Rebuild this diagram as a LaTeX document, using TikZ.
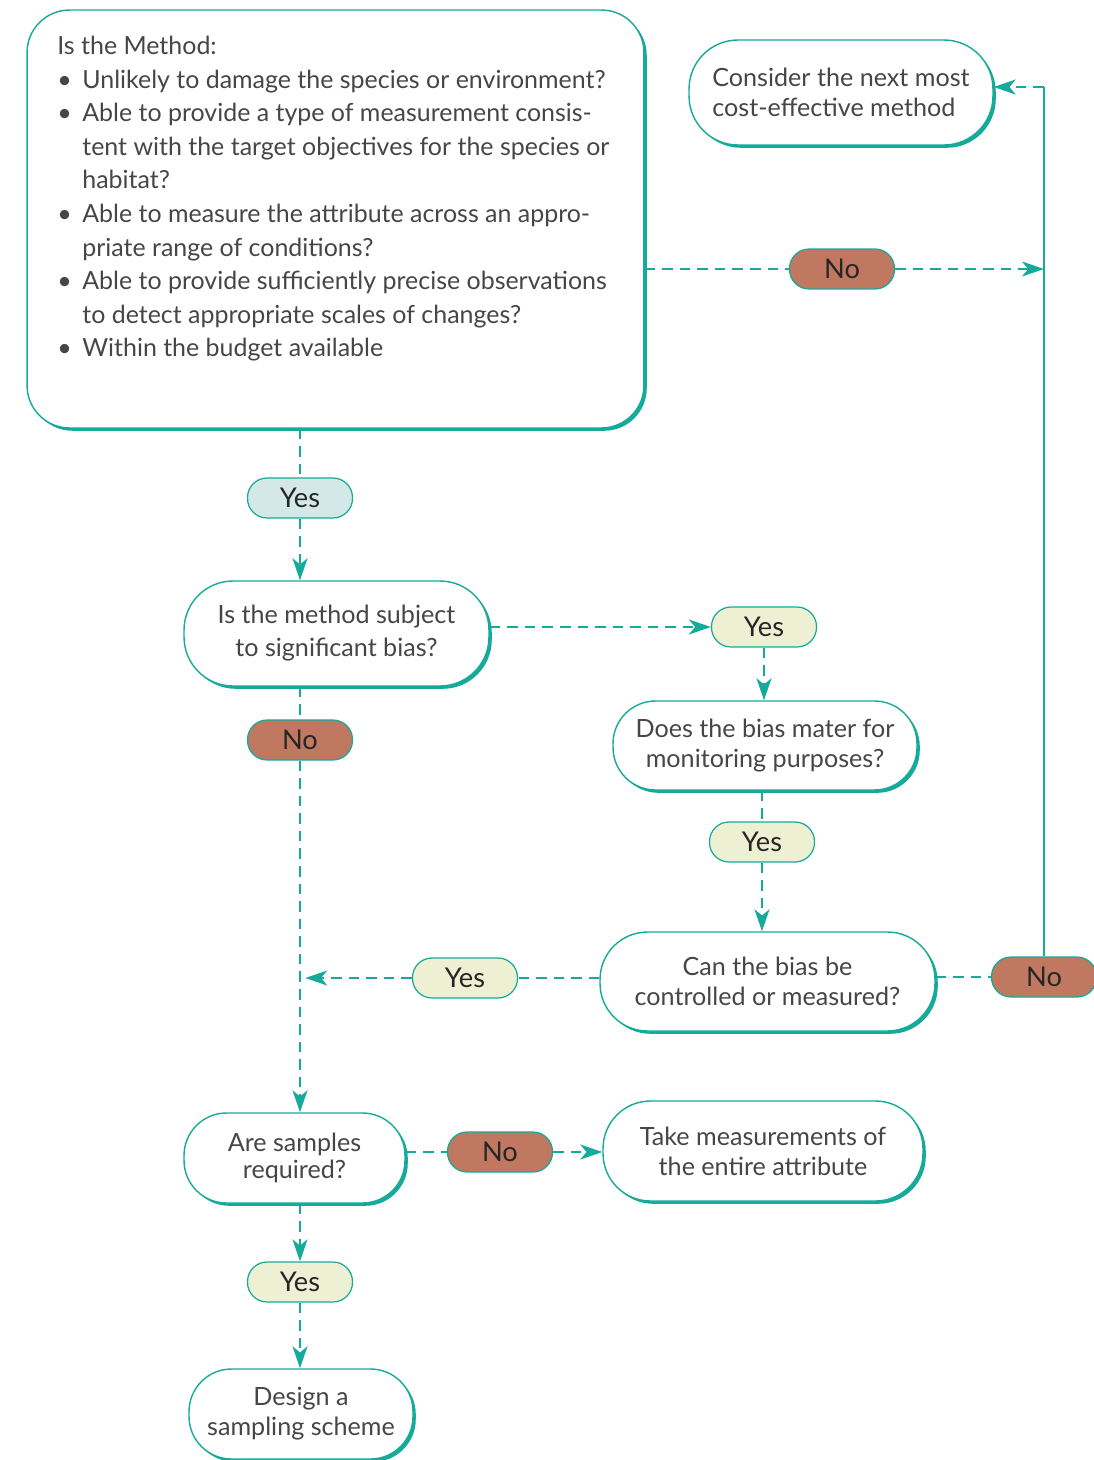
\documentclass[tikz,border=0pt]{standalone}
\usepackage{fontspec}
\setmainfont{Lato}
\usepackage{tikz}
\usetikzlibrary{arrows.meta, positioning, shadows, calc}
\definecolor{flowteal}{RGB}{22,170,155}
\definecolor{notext}{RGB}{192,120,96}
\definecolor{yesblue}{RGB}{212,232,231}
\definecolor{yescream}{RGB}{238,240,212}
\definecolor{boxtext}{RGB}{70,70,70}
\tikzset{
  flowbox/.style={rectangle, rounded corners=0.85cm, draw=flowteal, line width=0.8pt,
                  fill=white, align=center, text=boxtext,
                  font=\fontsize{14.3}{17}\selectfont,
                  drop shadow={shadow xshift=1.6pt, shadow yshift=-1.6pt,
                               opacity=1, fill=flowteal}},
  answer/.style={rectangle, rounded corners=0.39cm, draw=flowteal, line width=0.7pt,
                 minimum width=2.1cm, minimum height=0.8cm, inner sep=0pt,
                 text=black!85, font=\fontsize{15.5}{18}\selectfont},
  yesA/.style={answer, fill=yesblue},
  yesB/.style={answer, fill=yescream},
  noans/.style={answer, fill=notext},
  link/.style={flowteal, line width=1.4pt, dash pattern=on 6pt off 4pt},
  linkarrow/.style={link, -{Stealth[length=12.5pt, width=8.5pt, inset=3.5pt]}},
}
\newcommand{\bul}{\textbullet\hspace{6pt}}

\begin{document}
\begin{tikzpicture}[x=0.02cm, y=-0.02cm]
  \useasboundingbox (0,0) rectangle (1094,1460);

  % boxes
  \node[flowbox, rounded corners=0.85cm, minimum width=12.34cm, minimum height=8.36cm]
    (method) at (335.5,219) {};
  \node[anchor=north west, align=left, text=boxtext, inner sep=0pt,
        font=\fontsize{14.2}{19.1}\selectfont] (methodtext) at (57,36)
    {Is the Method:\\
     \bul Unlikely to damage the species or environment?\\
     \bul Able to provide a type of measurement consis-\\
     \phantom{\bul}tent with the target objectives for the species or\\
     \phantom{\bul}habitat?\\
     \bul Able to measure the attribute across an appro-\\
     \phantom{\bul}priate range of conditions?\\
     \bul Able to provide sufficiently precise observations\\
     \phantom{\bul}to detect appropriate scales of changes?\\
     \bul Within the budget available};
  \node[flowbox, align=left, rounded corners=0.98cm, minimum width=6.08cm, minimum height=2.1cm]
    (consider) at (841,92.5) {Consider the next most\\cost-effective method};
  \node[flowbox, rounded corners=0.98cm, minimum width=6.1cm, minimum height=2.1cm,
        font=\fontsize{14.3}{18.8}\selectfont]
    (bias) at (336.5,633.5) {Is the method subject\\to significant bias?};
  \node[flowbox, minimum width=6.08cm, minimum height=1.78cm]
    (matter) at (765,745.5) {Does the bias mater for\\monitoring purposes?};
  \node[flowbox, rounded corners=0.95cm, minimum width=6.7cm, minimum height=1.98cm]
    (control) at (767.5,981.5) {Can the bias be\\controlled or measured?};
  \node[flowbox, minimum width=4.42cm, minimum height=1.8cm,
        font=\fontsize{14.3}{15}\selectfont]
    (samples) at (294.5,1158) {Are samples\\required?};
  \node[flowbox, rounded corners=0.95cm, minimum width=6.4cm, minimum height=2.0cm]
    (entire) at (763,1151) {Take measurements of\\the entire attribute};
  \node[flowbox, minimum width=4.48cm, minimum height=1.8cm]
    (design) at (301,1414) {Design a\\sampling scheme};

  % answers
  \node[yesA] (yes1) at (300,498) {Yes};
  \node[noans] (no1) at (842,269) {No};
  \node[yesB] (yes2) at (764,627) {Yes};
  \node[noans] (no2) at (300,740) {No};
  \node[yesB] (yes3) at (762,842) {Yes};
  \node[yesB] (yes4) at (465,978) {Yes};
  \node[noans] (no3) at (1044,977) {No};
  \node[noans] (no4) at (500,1152) {No};
  \node[yesB] (yes5) at (300,1282) {Yes};

  \coordinate (join) at (300,978);
  \coordinate (corner) at (1044,87);

  % connectors
  \draw[link] (method.south -| yes1) -- (yes1);
  \draw[linkarrow] (yes1) -- (yes1 |- bias.north);
  \draw[linkarrow] (bias.east |- yes2) -- (yes2.west);
  \draw[linkarrow] (yes2) -- (yes2 |- matter.north);
  \draw[link] (matter.south -| yes3) -- (yes3);
  \draw[linkarrow] (yes3) -- (yes3 |- control.north);
  \draw[link] (control.west |- yes4) -- (yes4);
  \draw[linkarrow, shorten >=3pt] (yes4.west) -- (join);
  \draw[link] (bias.south -| no2) -- (no2);
  \draw[linkarrow] (no2) -- (no2 |- samples.north);
  \draw[link] (control.east |- no3) -- (no3);
  \draw[flowteal, line width=1.4pt] (no3.north) -- (corner);
  \draw[linkarrow] (corner) -- (corner -| consider.east);
  \draw[link] (method.east |- no1) -- (no1);
  \draw[linkarrow] (no1) -- (no1 -| no3);
  \draw[link] (samples.east |- no4) -- (no4);
  \draw[linkarrow] (no4) -- (no4 -| entire.west);
  \draw[linkarrow] (samples.south -| yes5) -- (yes5);
  \draw[linkarrow] (yes5) -- (yes5 |- design.north);
\end{tikzpicture}
\end{document}
